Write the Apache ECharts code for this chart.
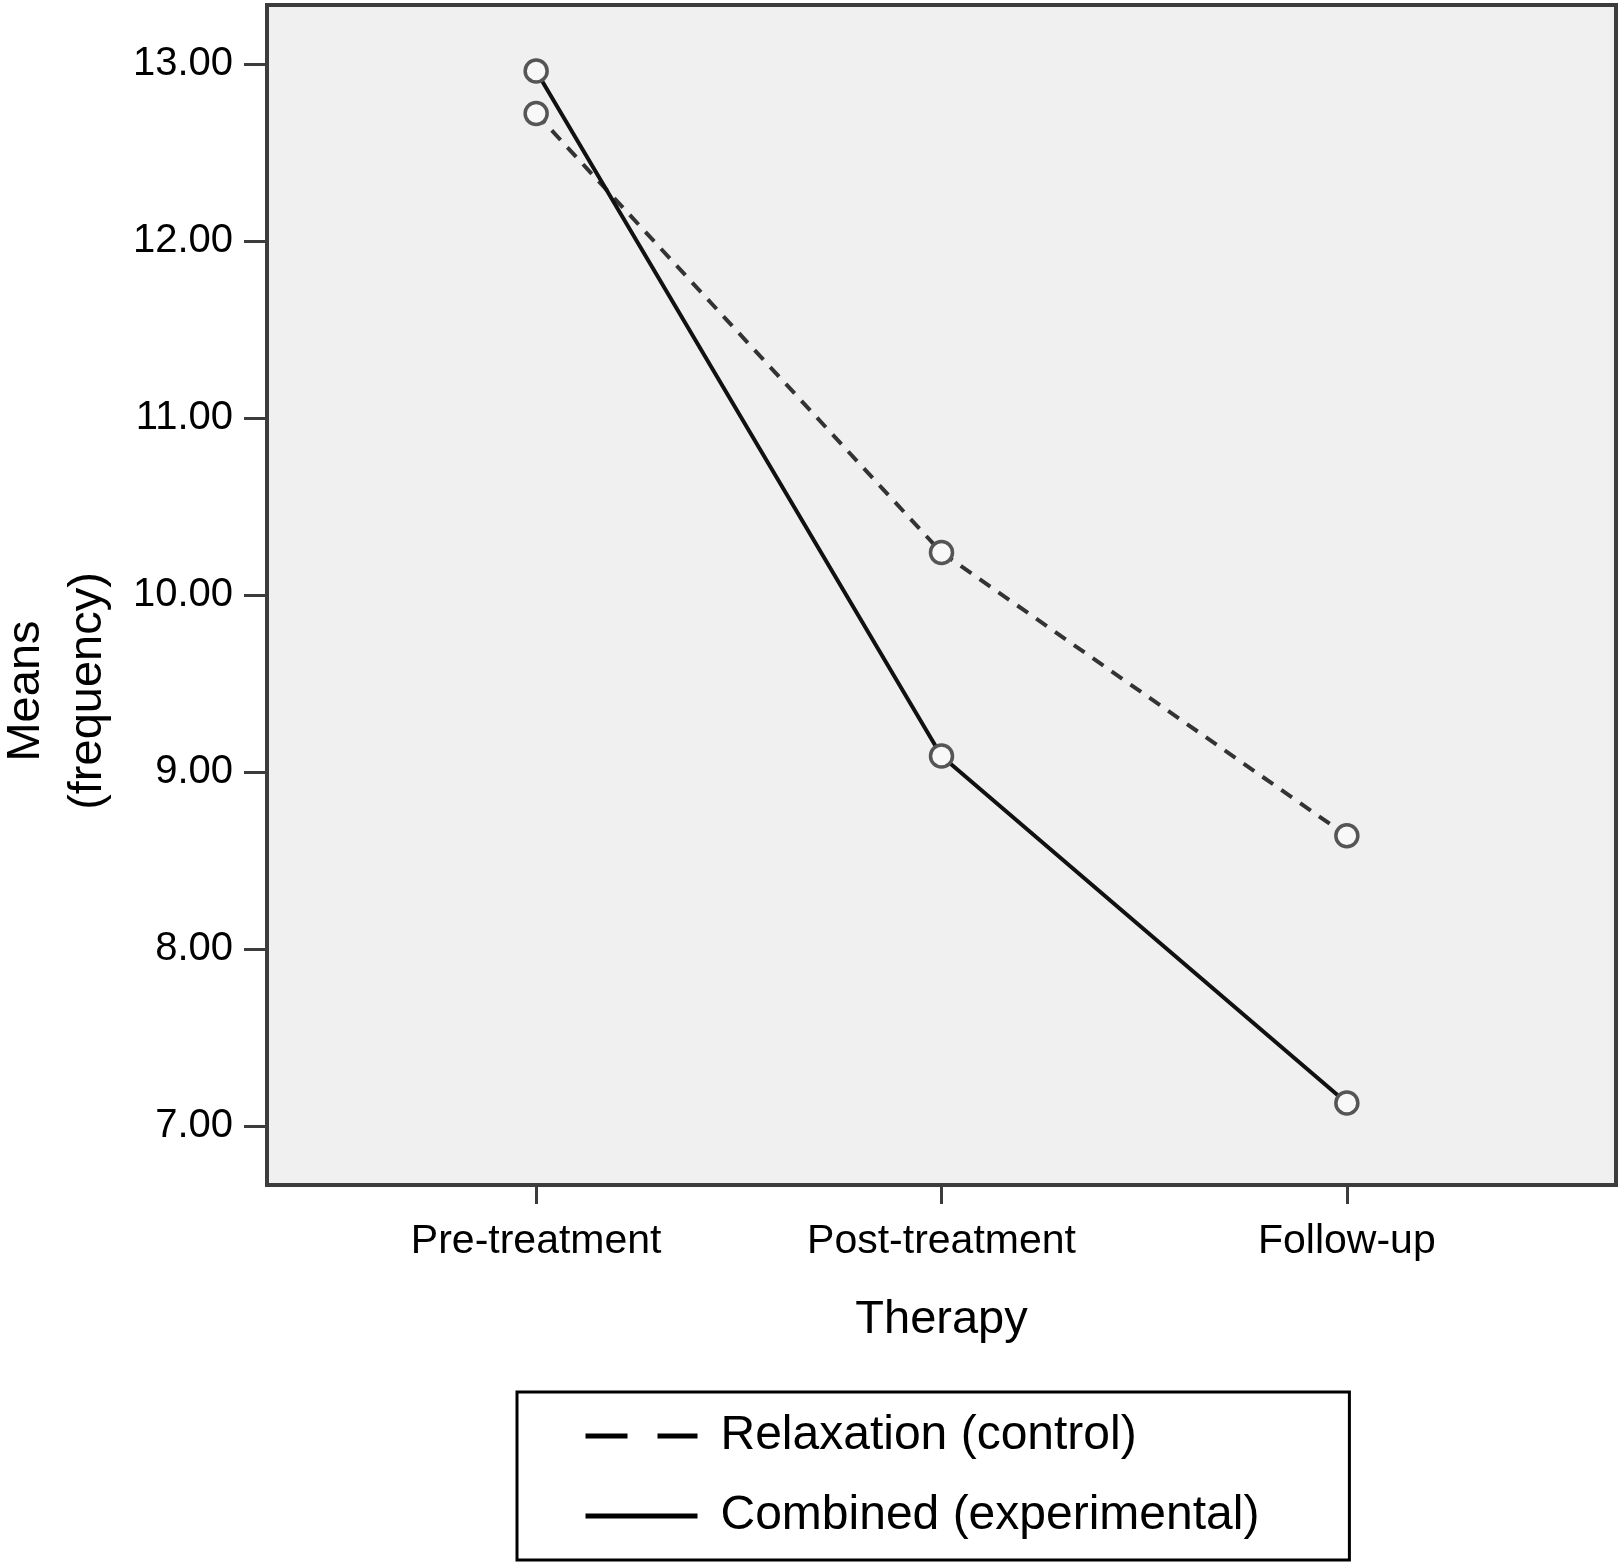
<!DOCTYPE html>
<html><head><meta charset="utf-8">
<script src="https://cdn.jsdelivr.net/npm/echarts@6/dist/echarts.min.js"></script>
<style>html,body{margin:0;padding:0;background:#fff}#c{width:1621px;height:1563px}</style>
</head><body><div id="c"></div>
<script>
const categories = ['Pre-treatment', 'Post-treatment', 'Follow-up'];
const seriesNames = ['Relaxation (control)', 'Combined (experimental)'];
const relaxation = [12.72, 10.24, 8.64];
const combined = [12.96, 9.09, 7.13];
const yTicks = [7, 8, 9, 10, 11, 12, 13];
const xTicks = [0, 1, 2];

const FONT = 'Liberation Sans, Arial, Helvetica, sans-serif';
const toPairs = arr => arr.map((v, i) => [i, v]);

const chart = echarts.init(document.getElementById('c'), null, {renderer: 'canvas'});
chart.setOption({
  backgroundColor: '#fff',
  animation: false,
  grid: {
    left: 267, top: 5, width: 1349, height: 1180,
    containLabel: false, outerBoundsMode: 'none',
    show: true, backgroundColor: '#f0f0f0', borderColor: '#3c3c3c', borderWidth: 4
  },
  xAxis: {
    type: 'value', min: -0.664, max: 2.664,
    name: 'Therapy', nameLocation: 'middle', nameGap: 112,
    nameTextStyle: {fontFamily: FONT, fontSize: 47, color: '#000'},
    axisLine: {show: false, onZero: false},
    splitLine: {show: false},
    axisTick: {show: true, customValues: xTicks, length: 19, lineStyle: {color: '#3c3c3c', width: 3}},
    axisLabel: {
      customValues: xTicks, margin: 36,
      fontFamily: FONT, fontSize: 41, color: '#000',
      formatter: v => categories[Math.round(v)] || ''
    }
  },
  yAxis: {
    type: 'value', min: 20 / 3, max: 40 / 3,
    name: 'Means\n(frequency)', nameLocation: 'middle', nameGap: 148,
    nameTextStyle: {fontFamily: FONT, fontSize: 47, lineHeight: 62, color: '#000', padding: [0, 192, 0, 0]},
    axisLine: {show: false, onZero: false},
    splitLine: {show: false},
    axisTick: {show: true, customValues: yTicks, length: 23, lineStyle: {color: '#3c3c3c', width: 3}},
    axisLabel: {
      customValues: yTicks, margin: 34,
      fontFamily: FONT, fontSize: 40, color: '#000',
      formatter: v => Number(v).toFixed(2)
    }
  },
  legend: {
    orient: 'vertical', left: 517, top: 1392,
    padding: [19, 90, 19, 66],
    itemWidth: 112, itemHeight: 50, itemGap: 30,
    borderColor: '#000', borderWidth: 3, backgroundColor: '#fff',
    selectedMode: false,
    textStyle: {fontFamily: FONT, fontSize: 48, color: '#000', lineHeight: 50, padding: [0, 0, 0, 18]},
    itemStyle: {color: 'rgba(0,0,0,0)', borderColor: 'rgba(0,0,0,0)', borderWidth: 0, opacity: 0},
    data: [
      {name: seriesNames[0], lineStyle: {type: [42, 30], width: 5, color: '#000'}},
      {name: seriesNames[1], lineStyle: {type: 'solid', width: 5, color: '#000'}}
    ]
  },
  series: [
    {
      name: seriesNames[0], type: 'line', data: toPairs(relaxation),
      lineStyle: {color: '#333', width: 4, type: [13, 10]},
      symbol: 'circle', symbolSize: 22,
      itemStyle: {color: '#f8f8f8', borderColor: '#555', borderWidth: 3.5},
      z: 2
    },
    {
      name: seriesNames[1], type: 'line', data: toPairs(combined),
      lineStyle: {color: '#111', width: 4, type: 'solid'},
      symbol: 'circle', symbolSize: 22,
      itemStyle: {color: '#f8f8f8', borderColor: '#555', borderWidth: 3.5},
      z: 3
    }
  ]
});
</script>
</body></html>
